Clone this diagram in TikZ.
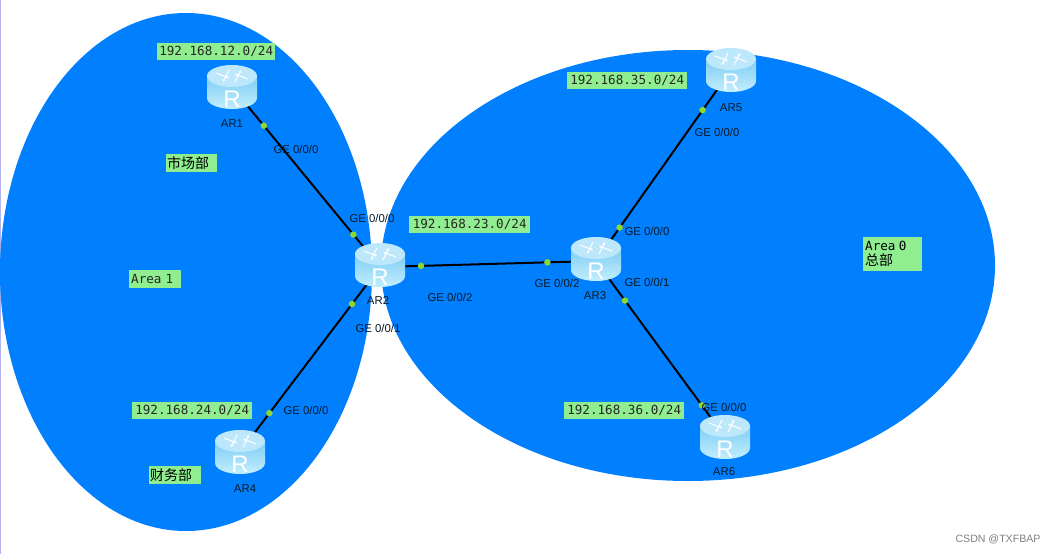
\documentclass[tikz,border=0pt]{standalone}
\usepackage{fontspec}
\setmainfont{Liberation Sans}
\newfontfamily\cjkf{Noto Sans CJK SC}
\newfontfamily\monof{DejaVu Sans Mono}
\usetikzlibrary{arrows.meta}
\definecolor{areablue}{HTML}{0080FF}
\definecolor{tagfill}{HTML}{90EE90}
\definecolor{dotgreen}{HTML}{8FD62E}
\definecolor{lbl}{HTML}{0A1A2A}
\definecolor{rtop}{HTML}{BDE8FB}
\definecolor{rmid}{HTML}{7FCDF5}
\definecolor{rlow}{HTML}{C2EEFD}
\tikzset{
 x=1pt,y=-1pt,
 area/.style={fill=areablue,draw=none},
 link/.style={draw=black,line width=2pt},
 portdot/.style={circle,fill=dotgreen,draw=none,minimum size=6.5pt,inner sep=0pt},
 port/.style={font=\fontsize{11.4}{12}\selectfont,text=lbl,inner sep=0pt},
 rname/.style={font=\fontsize{11.4}{12}\selectfont,text=lbl,inner sep=0pt},
 tag/.style={fill=tagfill,draw=none,inner sep=0pt,anchor=north west},
 mono/.style={font=\monof\fontsize{12.6}{14}\selectfont,text=black!85},
 cjk/.style={font=\cjkf\fontsize{14}{15}\selectfont,text=black},
 wmark/.style={font=\fontsize{10.6}{12}\selectfont,text=black!50,inner sep=0pt},
 rarrow/.style={draw=white,line width=1pt,-{Stealth[length=3pt,width=3pt]}},
}
\newcommand{\rtricon}[3]{%
 \begin{scope}[shift={(#1,#2)}]
  \path[top color=rmid,bottom color=rlow] (-25,-11) -- (-25,11) arc[start angle=180,end angle=0,x radius=25,y radius=11] -- (25,-11) -- cycle;
  \path[fill=rtop] (0,-11) ellipse[x radius=25,y radius=11];
  \draw[rarrow] (-16,-14) -- (-3,-9);
  \draw[rarrow] (16,-8) -- (3,-13);
  \draw[rarrow] (-3,-17) -- (-9,-5);
  \draw[rarrow] (3,-5) -- (9,-17);
  \node[text=white,font=\fontsize{24}{24}\selectfont,inner sep=0pt] (#3) at (0,12) {R};
 \end{scope}}
\begin{document}
\begin{tikzpicture}
\useasboundingbox (0,0) rectangle (1054,554);
\fill[white] (0,0) rectangle (1054,554);
\fill[black!20!blue!30!white] (0,0) rectangle (1,554);
\path[area] (186,272) ellipse[x radius=186,y radius=259];
\path[area] (688,265.5) ellipse[x radius=307,y radius=215.5];
\coordinate (ar1) at (232,87);
\coordinate (ar2) at (380,267);
\coordinate (ar3) at (596,261);
\coordinate (ar4) at (240,452);
\coordinate (ar5) at (731,70);
\coordinate (ar6) at (725,437);
\path[link] (ar1) -- (ar2) node[portdot,pos=.215] (d1) {} node[portdot,pos=.82] (d2) {};
\path[link] (ar2) -- (ar3) node[portdot,pos=.19] (d3) {} node[portdot,pos=.775] (d4) {};
\path[link] (ar2) -- (ar4) node[portdot,pos=.2] (d5) {} node[portdot,pos=.79] (d6) {};
\path[link] (ar3) -- (ar5) node[portdot,pos=.175] (d7) {} node[portdot,pos=.79] (d8) {};
\path[link] (ar3) -- (ar6) node[portdot,pos=.225] (d9) {} node[portdot,pos=.82] (d10) {};
\rtricon{232}{87}{r1}
\rtricon{380}{265}{r2}
\rtricon{596}{259}{r3}
\rtricon{240}{452}{r4}
\rtricon{731}{70}{r5}
\rtricon{725}{437}{r6}
\node[rname] (n1) at (232,124) {AR1};
\node[rname] (n2) at (378,301) {AR2};
\node[rname] (n3) at (595,296) {AR3};
\node[rname] (n4) at (245,489) {AR4};
\node[rname] (n5) at (731,108) {AR5};
\node[rname] (n6) at (724,472) {AR6};
\node[port] (p1) at (296,149) {GE 0/0/0};
\node[port] (p2) at (372,218) {GE 0/0/0};
\node[port] (p3) at (450,297) {GE 0/0/2};
\node[port] (p4) at (378,328) {GE 0/0/1};
\node[port] (p5) at (306,410) {GE 0/0/0};
\node[port] (p6) at (557,283) {GE 0/0/2};
\node[port] (p7) at (647,231) {GE 0/0/0};
\node[port] (p8) at (647,282) {GE 0/0/1};
\node[port] (p9) at (717,132) {GE 0/0/0};
\node[port] (p10) at (724,407) {GE 0/0/0};
\node[tag,mono,minimum width=118pt,minimum height=17pt] (t1) at (157,43) {192.168.12.0/24};
\node[tag,mono,minimum width=120pt,minimum height=17pt] (t2) at (132,402) {192.168.24.0/24};
\node[tag,mono,minimum width=121pt,minimum height=17pt] (t3) at (409,216) {192.168.23.0/24};
\node[tag,mono,minimum width=120pt,minimum height=17pt] (t4) at (567,72) {192.168.35.0/24};
\node[tag,mono,minimum width=120pt,minimum height=17pt] (t5) at (564,402) {192.168.36.0/24};
\node[tag,mono,text width=48pt,align=left,minimum height=18pt,inner xsep=2pt] (t6) at (129,270) {Area 1};
\node[tag,cjk,text width=49pt,align=left,minimum height=18pt,inner xsep=1pt] (t7) at (166,154) {市场部};
\node[tag,cjk,text width=50pt,align=left,minimum height=18pt,inner xsep=1pt] (t8) at (149,466) {财务部};
\node[tag,text width=55pt,minimum height=34pt,inner xsep=2pt,align=left] (t9) at (863,237) {{\monof\fontsize{12.6}{12}\selectfont Area 0}\\[3pt]{\cjkf\fontsize{14}{14}\selectfont 总部}};
\node[wmark] (wm) at (998,539) {CSDN @TXFBAP};
\end{tikzpicture}
\end{document}
